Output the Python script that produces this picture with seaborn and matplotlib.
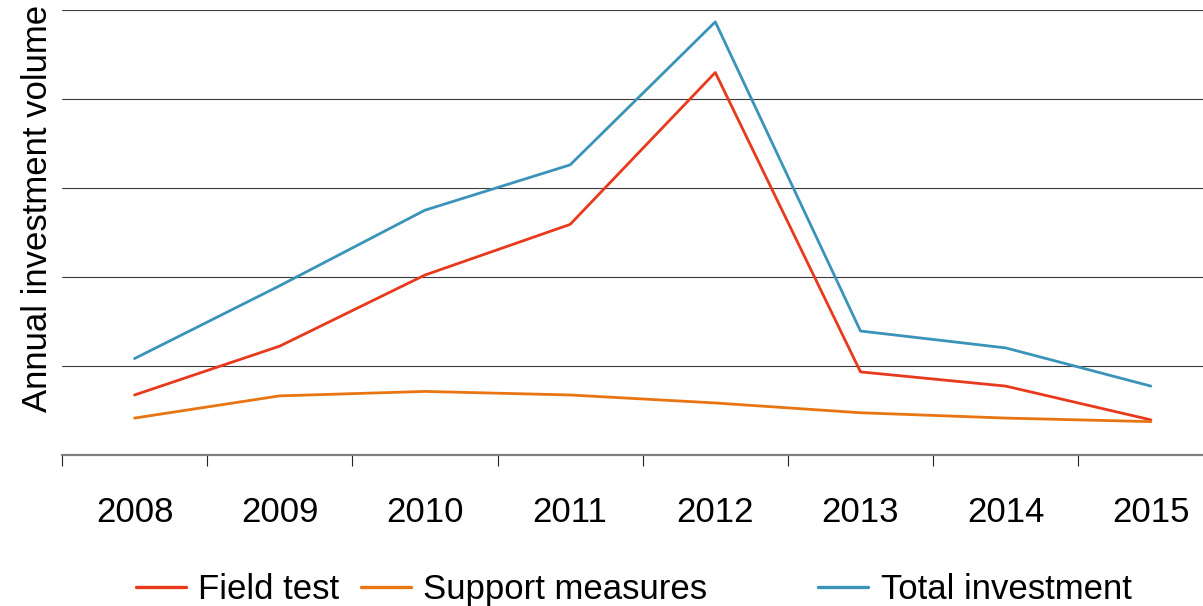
import matplotlib
matplotlib.use("Agg")
import matplotlib.pyplot as plt
from matplotlib.lines import Line2D
import numpy as np
import pandas as pd
import seaborn as sns

# Annual investment volume by category (relative units)
years = [2008, 2009, 2010, 2011, 2012, 2013, 2014, 2015]
field_test = [0.67, 1.22, 2.02, 2.59, 4.30, 0.93, 0.77, 0.39]
support_measures = [0.41, 0.66, 0.71, 0.67, 0.58, 0.47, 0.41, 0.37]
total_investment = [1.08, 1.90, 2.75, 3.26, 4.87, 1.39, 1.20, 0.77]

series_names = ["Field test", "Support measures", "Total investment"]
series_colors = ["#E8391C", "#E87511", "#3A93B8"]

df = pd.DataFrame({
    "year": years * 3,
    "value": field_test + support_measures + total_investment,
    "series": sum([[n] * len(years) for n in series_names], []),
})

sns.set_theme(style="white")
plt.rcParams["font.family"] = ["Liberation Sans", "DejaVu Sans"]
plt.rcParams["text.color"] = "black"
plt.rcParams["axes.labelcolor"] = "black"
plt.rcParams["xtick.color"] = "black"
plt.rcParams["ytick.color"] = "black"

FS = 25

fig = plt.figure(figsize=(12.03, 6.06), dpi=100)
ax = fig.add_axes([0.0515, 0.25, 0.9655, 0.733])

sns.lineplot(data=df, x="year", y="value", hue="series",
             hue_order=series_names, palette=series_colors,
             linewidth=2.0, ax=ax, legend=False)

ax.set_xlim(years[0] - 0.5, years[-1] + 0.5)
ax.set_ylim(0, 5)

# horizontal gridlines
ax.set_yticks([1, 2, 3, 4, 5])
ax.set_yticklabels([])
ax.tick_params(axis="y", length=0)
ax.yaxis.grid(True, color="#3a3a3a", linewidth=0.8)
ax.xaxis.grid(False)

# category boundaries as ticks, year labels centred between them
ax.set_xticks([y - 0.5 for y in years])
ax.set_xticklabels([])
ax.set_xticks(years, minor=True)
ax.set_xticklabels([str(y) for y in years], minor=True, fontsize=FS)
ax.tick_params(axis="x", which="major", length=8, width=0.8, color="#222222",
               direction="out", bottom=True)
ax.tick_params(axis="x", which="minor", length=0, pad=30, bottom=True,
               labelcolor="black")

for side in ["top", "right", "left"]:
    ax.spines[side].set_visible(False)
ax.spines["bottom"].set_color("#808080")
ax.spines["bottom"].set_linewidth(1.6)

ax.set_xlabel("")
ax.set_ylabel("Annual investment volume", fontsize=FS, color="black")
ax.yaxis.set_label_coords(-0.007, 0.554)

# legend entries placed along the bottom
legend_x = [0.113, 0.300, 0.680]
for name, color, lx in zip(series_names, series_colors, legend_x):
    h = Line2D([0], [0], color=color, linewidth=2.4)
    leg = fig.legend([h], [name], loc="center left", bbox_to_anchor=(lx, 0.027),
                     frameon=False, fontsize=FS, handlelength=1.45,
                     handletextpad=0.35, borderpad=0, borderaxespad=0)
    for t in leg.get_texts():
        t.set_color("black")

fig.savefig("out.png", dpi=100)
